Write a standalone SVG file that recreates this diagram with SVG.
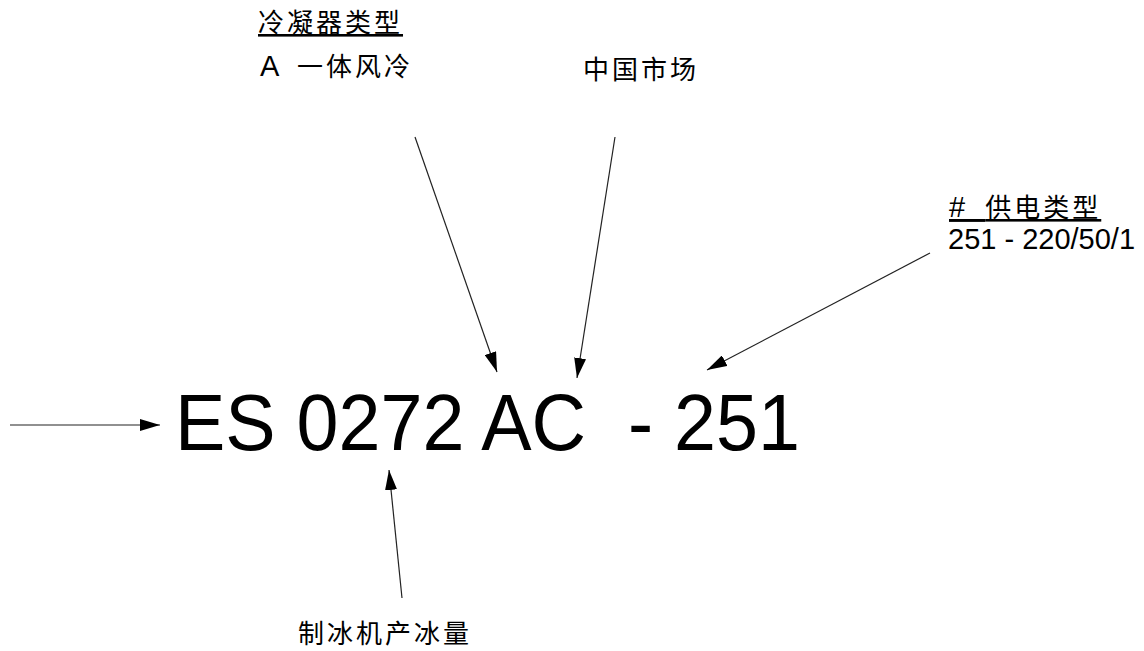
<svg xmlns="http://www.w3.org/2000/svg" width="1144" height="651" viewBox="0 0 1144 651">
<style>
.lbl{font-family:"Liberation Sans","Noto Sans CJK SC",sans-serif;font-size:29px;fill:#000}
.cjk{font-family:"Noto Sans CJK SC","Liberation Sans",sans-serif;font-size:26px;letter-spacing:3px;fill:#000}
.big{font-family:"Liberation Sans",Arial,sans-serif;font-size:79px;fill:#000;white-space:pre}
.conn line{stroke:#222;stroke-width:1.2;fill:none}
</style>
<defs>
<marker id="ah" viewBox="0 0 20 12" refX="20" refY="6" markerWidth="20" markerHeight="12" markerUnits="userSpaceOnUse" orient="auto">
<path d="M0,0 L20,6 L0,12 Z" fill="#000"/>
</marker>
</defs>
<rect width="1144" height="651" fill="#fff"/>
<g id="code">
<text class="big" x="175" y="450" textLength="625" lengthAdjust="spacingAndGlyphs" xml:space="preserve">ES 0272 AC  - 251</text>
</g>
<g id="condenser">
<text class="cjk" x="258" y="32" text-decoration="underline">冷凝器类型</text>
<text class="lbl" x="260" y="76">A</text>
<text class="cjk" x="297" y="76">一体风冷</text>
</g>
<g id="market">
<text class="cjk" x="583" y="79">中国市场</text>
</g>
<g id="power">
<text class="lbl" x="949" y="217" text-decoration="underline" xml:space="preserve" style="white-space:pre;word-spacing:2px">#  <tspan class="cjk">供电类型</tspan></text>
<text class="lbl" x="948" y="249">251 - 220/50/1</text>
</g>
<g id="capacity">
<text class="cjk" x="298" y="643">制冰机产冰量</text>
</g>
<g id="connectors" class="conn">
<line x1="10" y1="425" x2="160" y2="425" marker-end="url(#ah)"/>
<line x1="415" y1="137" x2="497" y2="372" marker-end="url(#ah)"/>
<line x1="615" y1="137" x2="577" y2="378" marker-end="url(#ah)"/>
<line x1="930" y1="253" x2="707" y2="370" marker-end="url(#ah)"/>
<line x1="402" y1="598" x2="389" y2="470" marker-end="url(#ah)"/>
</g>
</svg>
